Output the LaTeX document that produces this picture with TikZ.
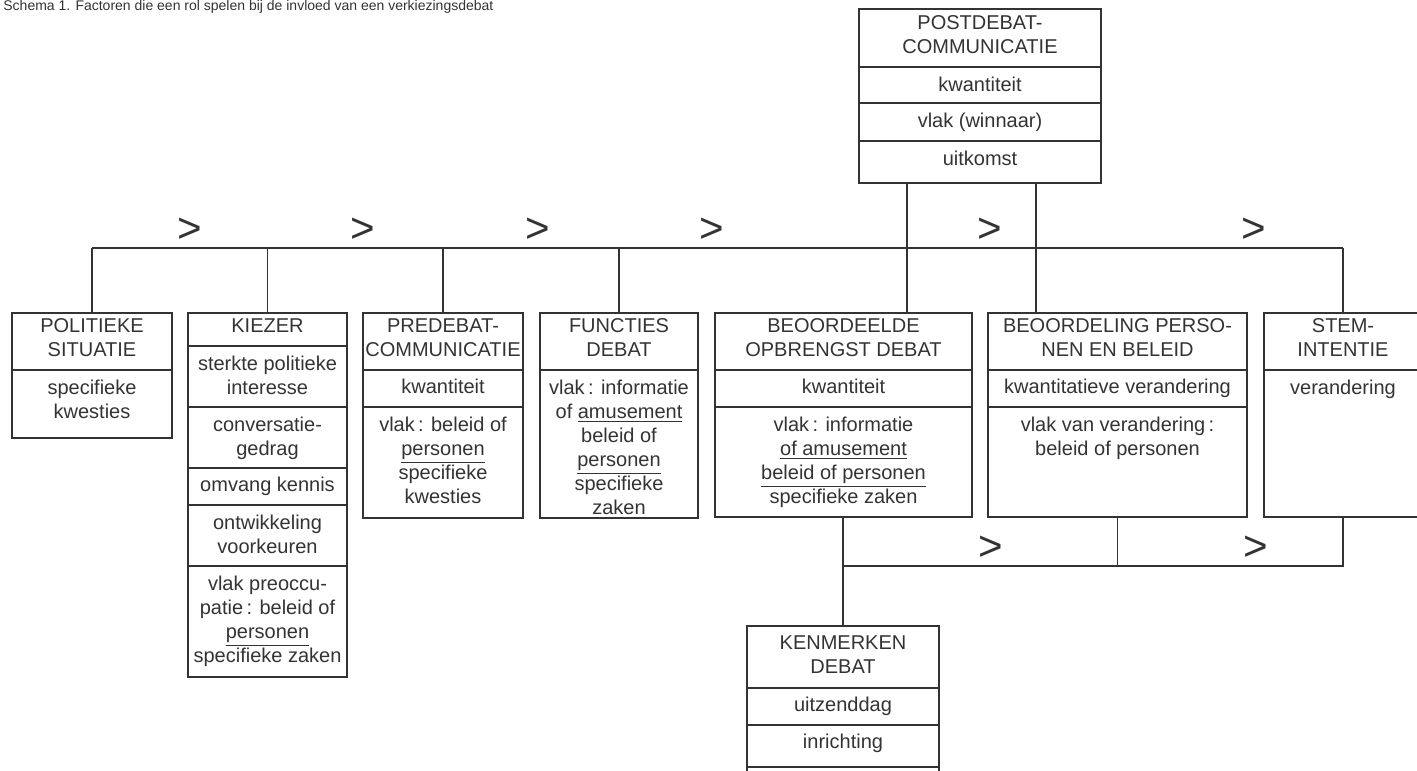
\documentclass[tikz,border=0pt]{standalone}
\usepackage{fontspec}
\setmainfont{Liberation Sans}
\usetikzlibrary{fit}
\definecolor{ink}{HTML}{333333}
\tikzset{
  cellf/.style={draw=ink, line width=0.9pt, inner sep=0pt, outer sep=0pt},
  celltxt/.style={text=ink, inner sep=0pt, align=center, font=\fontsize{10}{12}\selectfont},
  conn/.style={draw=ink, line width=0.9pt},
  gt/.style={text=ink, inner sep=0pt, anchor=base, font=\fontsize{21}{21}\selectfont},
}
\newcommand\hdr{\fontsize{10}{11.3}\selectfont}
% name, x1, y1, x2, y2, top padding, text
\newcommand\mycell[7]{%
  \node[cellf, fit={(#2,#3) (#4,#5)}] (#1) {};
  \node[celltxt, anchor=north] (#1t) at ([yshift=-#6]#1.north) {#7};
}
\begin{document}
\begin{tikzpicture}[x=0.5pt, y=-0.5pt]
\useasboundingbox (0,0) rectangle (1417,770);
\clip (0,0) rectangle (1417,770);

% title
\node[anchor=base west, text=ink, inner sep=0pt, font=\fontsize{7}{8}\selectfont] (title) at (3,11)
  {Schema 1. Factoren die een rol spelen bij de invloed van een verkiezingsdebat};

% POSTDEBAT
\mycell{post1}{859}{9}{1101}{67}{3pt}{\hdr POSTDEBAT-\\COMMUNICATIE}
\mycell{post2}{859}{67}{1101}{103}{4.7pt}{kwantiteit}
\mycell{post3}{859}{103}{1101}{141}{4.7pt}{vlak (winnaar)}
\mycell{post4}{859}{141}{1101}{183}{4.7pt}{uitkomst}

% POLITIEKE SITUATIE
\mycell{pol1}{12}{313}{172}{370}{2.5pt}{\hdr POLITIEKE\\SITUATIE}
\mycell{pol2}{12}{370}{172}{438}{4.7pt}{specifieke\\kwesties}

% KIEZER
\mycell{kie1}{188}{313}{347}{346}{2.8pt}{KIEZER}
\mycell{kie2}{188}{346}{347}{407}{4.7pt}{sterkte politieke\\interesse}
\mycell{kie3}{188}{407}{347}{468}{4.7pt}{conversatie-\\gedrag}
\mycell{kie4}{188}{468}{347}{505}{4.5pt}{omvang kennis}
\mycell{kie5}{188}{505}{347}{566}{4.7pt}{ontwikkeling\\voorkeuren}
\mycell{kie6}{188}{566}{347}{677}{4.7pt}{vlak preoccu-\\patie\,: beleid of\\\underline{personen}\\specifieke zaken}

% PREDEBAT
\mycell{pre1}{363}{313}{523}{370}{2.5pt}{\hdr PREDEBAT-\\COMMUNICATIE}
\mycell{pre2}{363}{370}{523}{407}{4.5pt}{kwantiteit}
\mycell{pre3}{363}{407}{523}{518}{4.7pt}{vlak\,: beleid of\\\underline{personen}\\specifieke\\kwesties}

% FUNCTIES DEBAT
\mycell{fun1}{540}{313}{698}{370}{2.5pt}{\hdr FUNCTIES\\DEBAT}
\mycell{fun2}{540}{370}{698}{518}{4.7pt}{vlak\,: informatie\\of \underline{amusement}\\beleid of\\\underline{personen}\\specifieke\\zaken}

% BEOORDEELDE OPBRENGST DEBAT
\mycell{beo1}{715}{313}{972}{370}{2.5pt}{\hdr BEOORDEELDE\\OPBRENGST DEBAT}
\mycell{beo2}{715}{370}{972}{407}{4.5pt}{kwantiteit}
\mycell{beo3}{715}{407}{972}{517}{4.7pt}{vlak\,: informatie\\\underline{of amusement}\\\underline{beleid of personen}\\specifieke zaken}

% BEOORDELING PERSONEN EN BELEID
\mycell{bpn1}{988}{313}{1247}{370}{2.5pt}{\hdr BEOORDELING PERSO-\\NEN EN BELEID}
\mycell{bpn2}{988}{370}{1247}{407}{4.5pt}{kwantitatieve verandering}
\mycell{bpn3}{988}{407}{1247}{517}{4.7pt}{vlak van verandering\,:\\beleid of personen}

% STEMINTENTIE
\mycell{stem1}{1264}{313}{1422}{370}{2.5pt}{\hdr STEM-\\INTENTIE}
\mycell{stem2}{1264}{370}{1422}{517}{4.7pt}{verandering}

% KENMERKEN DEBAT
\mycell{ken1}{747}{626}{939}{688}{4.5pt}{\hdr KENMERKEN\\DEBAT}
\mycell{ken2}{747}{688}{939}{725}{4.5pt}{uitzenddag}
\mycell{ken3}{747}{725}{939}{767}{4.5pt}{inrichting}
\node[cellf, fit={(747,767) (939,830)}] (ken4) {};

% connectors
\coordinate (busY) at (0,248);
\coordinate (lowY) at (0,566);
\draw[conn] (pol1.north |- busY) -- (stem1.north |- busY);
\draw[conn] (pol1.north) -- (pol1.north |- busY);
\draw[conn] (kie1.north) -- (kie1.north |- busY);
\draw[conn] (pre1.north) -- (pre1.north |- busY);
\draw[conn] (fun1.north) -- (fun1.north |- busY);
\draw[conn] (stem1.north) -- (stem1.north |- busY);
\path (post4.south west) ++(48,0) coordinate (pA);
\path (post4.south west) ++(177,0) coordinate (pB);
\draw[conn] (pA) -- (pA |- beo1.north);
\draw[conn] (pB) -- (pB |- bpn1.north);
\draw[conn] (ken1.north |- beo3.south) -- (ken1.north);
\draw[conn] (bpn3.south) -- (bpn3.south |- lowY);
\draw[conn] (stem2.south) -- (stem2.south |- lowY) -- (ken1.north |- lowY);

% order signs
\node[gt] (g1) at (190,242.5) {>};
\node[gt] (g2) at (363,242.5) {>};
\node[gt] (g3) at (538,242.5) {>};
\node[gt] (g4) at (712,242.5) {>};
\node[gt] (g5) at (990,242.5) {>};
\node[gt] (g6) at (1254,242.5) {>};
\node[gt] (g7) at (991,560.5) {>};
\node[gt] (g8) at (1256,560.5) {>};
\end{tikzpicture}
\end{document}
